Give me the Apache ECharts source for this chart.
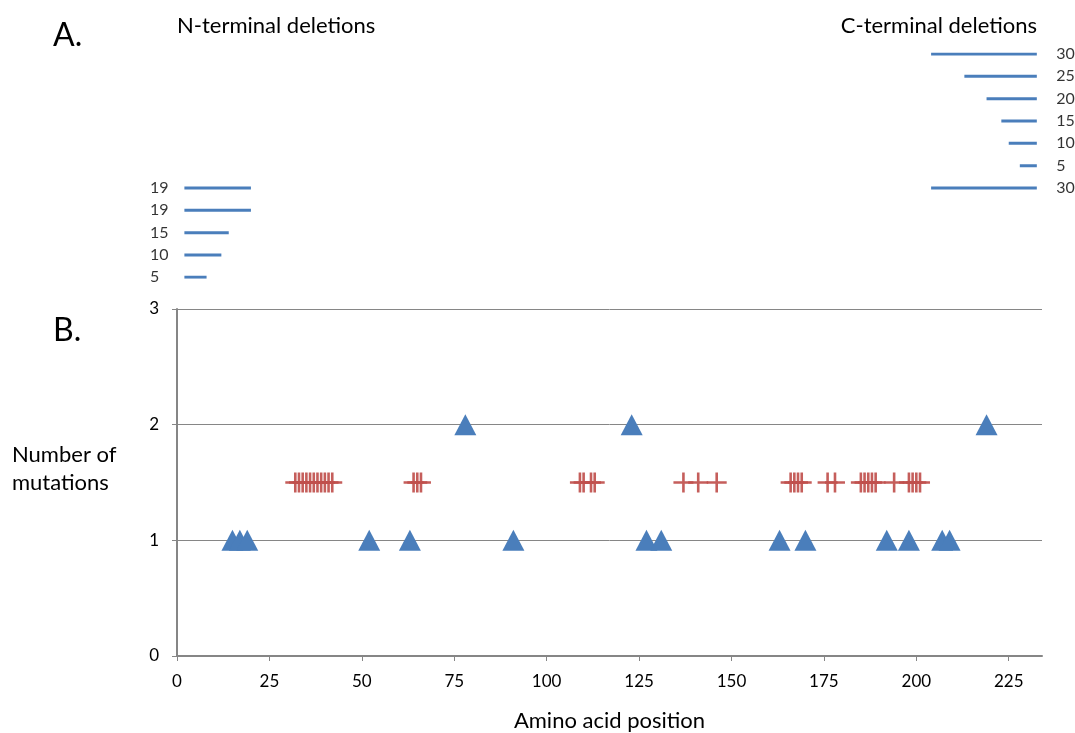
<!DOCTYPE html>
<html>
<head>
<meta charset="utf-8">
<script src="https://cdn.jsdelivr.net/npm/echarts@6/dist/echarts.min.js"></script>
<style>
html,body{margin:0;padding:0;background:#fff;}
#chart{width:1075px;height:733px;}
</style>
</head>
<body>
<div id="chart"></div>
<script>
// ---- Data ----
// Single mutations (triangles): amino acid position and count
const triPositions = [15, 17, 19, 52, 63, 78, 91, 123, 127, 131, 163, 170, 192, 198, 207, 209, 219];
const triCounts    = [1, 1, 1, 1, 1, 2, 1, 2, 1, 1, 1, 1, 1, 1, 1, 1, 2];
// Other mutation positions (red plus marks), all plotted at 1.5
const plusPositions = [32, 33, 34, 35, 36, 37, 38, 39, 40, 41, 42,
  64, 65, 66, 109, 110, 112, 113, 137, 141, 146,
  166, 167, 168, 169, 176, 178, 185, 186, 187, 188, 189, 194, 198, 199, 200, 201];
const plusLevel = 1.5;
// N-terminal deletions
const nDelLabels = ['19', '19', '15', '10', '5'];
const nDelStart  = [2, 2, 2, 2, 2];
const nDelEnd    = [20, 20, 14, 12, 8];
// C-terminal deletions
const cDelLabels = ['30', '25', '20', '15', '10', '5', '30'];
const cDelStart  = [204, 213, 219, 223, 225, 228, 204];
const cDelEnd    = [232.6, 232.6, 232.6, 232.6, 232.6, 232.6, 232.6];
// Axis ticks
const xTicks = [0, 25, 50, 75, 100, 125, 150, 175, 200, 225];
const yTicks = [0, 1, 2, 3];

// ---- Chart ----
const FONT = 'Lato';
const BLUE = '#4A7EBB';
const RED = '#C0504D';
const GRAY = '#868686';
const X_MAX = 234;

const chart = echarts.init(document.getElementById('chart'), null, {renderer: 'canvas'});

const cRows = cDelLabels.map((_, i) => i);
const nRows = nDelLabels.map((_, i) => i + cDelLabels.length - 1);

const series = [];
cDelLabels.forEach((lab, i) => {
  series.push({
    type: 'line', xAxisIndex: 1, yAxisIndex: 1, symbol: 'none', silent: true,
    lineStyle: {color: BLUE, width: 3},
    data: [[cDelStart[i], cRows[i]], [cDelEnd[i], cRows[i]]]
  });
});
nDelLabels.forEach((lab, i) => {
  series.push({
    type: 'line', xAxisIndex: 1, yAxisIndex: 1, symbol: 'none', silent: true,
    lineStyle: {color: BLUE, width: 3},
    data: [[nDelStart[i], nRows[i]], [nDelEnd[i], nRows[i]]]
  });
});
// Labels for deletions
series.push({
  type: 'scatter', xAxisIndex: 1, yAxisIndex: 1, symbolSize: 1, silent: true,
  itemStyle: {color: 'rgba(0,0,0,0)'},
  label: {show: true, position: 'right', distance: 19, color: '#000', fontFamily: FONT, fontSize: 16,
          formatter: p => p.value[2]},
  data: cDelLabels.map((lab, i) => [cDelEnd[i], cRows[i], lab])
});
series.push({
  type: 'scatter', xAxisIndex: 1, yAxisIndex: 1, symbolSize: 1, silent: true,
  itemStyle: {color: 'rgba(0,0,0,0)'},
  label: {show: true, position: 'left', distance: 34, align: 'left', color: '#000', fontFamily: FONT, fontSize: 16,
          formatter: p => p.value[2]},
  data: nDelLabels.map((lab, i) => [nDelStart[i], nRows[i], lab])
});
// Mutations
series.push({
  type: 'scatter', xAxisIndex: 0, yAxisIndex: 0, silent: true,
  symbol: 'path://M0,8.7H20V11.3H0Z M8.7,0H11.3V20H8.7Z',
  symbolSize: [20, 20],
  itemStyle: {color: RED, opacity: 0.92},
  data: plusPositions.map(p => [p, plusLevel]),
  z: 3
});
series.push({
  type: 'scatter', xAxisIndex: 0, yAxisIndex: 0, silent: true,
  symbol: 'triangle', symbolSize: [22, 21],
  itemStyle: {color: BLUE, opacity: 1},
  data: triPositions.map((p, i) => [p, triCounts[i]]),
  z: 4
});

const titleStyle = size => ({fontFamily: FONT, fontSize: size, fontWeight: 'normal', color: '#000'});

const option = {
  animation: false,
  backgroundColor: '#fff',
  textStyle: {fontFamily: FONT},
  title: [
    {text: 'A.', left: 53, top: 20, padding: 0, textStyle: titleStyle(32)},
    {text: 'B.', left: 53, top: 315, padding: 0, textStyle: titleStyle(32)},
    {text: 'N-terminal deletions', left: 177, top: 15, padding: 0, textStyle: titleStyle(22)},
    {text: 'C-terminal deletions', right: 38, top: 15, padding: 0, textStyle: titleStyle(22)},
    {text: 'Number of\nmutations', left: 12, top: 441, padding: 0,
     textStyle: Object.assign(titleStyle(22), {lineHeight: 28})}
  ],
  grid: [
    {left: 177, right: 33, top: 309, bottom: 72, containLabel: false},
    {left: 177, right: 33, top: 54, bottom: 455.7, containLabel: false}
  ],
  xAxis: [
    {
      type: 'value', gridIndex: 0, min: 0, max: X_MAX, interval: 25,
      name: 'Amino acid position', nameLocation: 'middle', nameGap: 54,
      nameTextStyle: {fontFamily: FONT, fontSize: 22, color: '#000'},
      axisLine: {show: true, lineStyle: {color: GRAY, width: 2}},
      axisTick: {show: true, inside: false, length: 5, lineStyle: {color: GRAY, width: 1}, customValues: xTicks},
      axisLabel: {color: '#000', fontFamily: FONT, fontSize: 17, margin: 17, customValues: xTicks},
      splitLine: {show: false}
    },
    {type: 'value', gridIndex: 1, min: 0, max: X_MAX, show: false}
  ],
  yAxis: [
    {
      type: 'value', gridIndex: 0, min: 0, max: 3, interval: 1,
      axisLine: {show: true, lineStyle: {color: GRAY, width: 2}},
      axisTick: {show: true, inside: false, length: 5, lineStyle: {color: GRAY, width: 1}},
      axisLabel: {color: '#000', fontFamily: FONT, fontSize: 17, margin: 18},
      splitLine: {show: true, lineStyle: {color: GRAY, width: 1}}
    },
    {type: 'value', gridIndex: 1, min: 0, max: 10, inverse: true, show: false}
  ],
  series: series
};
chart.setOption(option);
</script>
</body>
</html>
